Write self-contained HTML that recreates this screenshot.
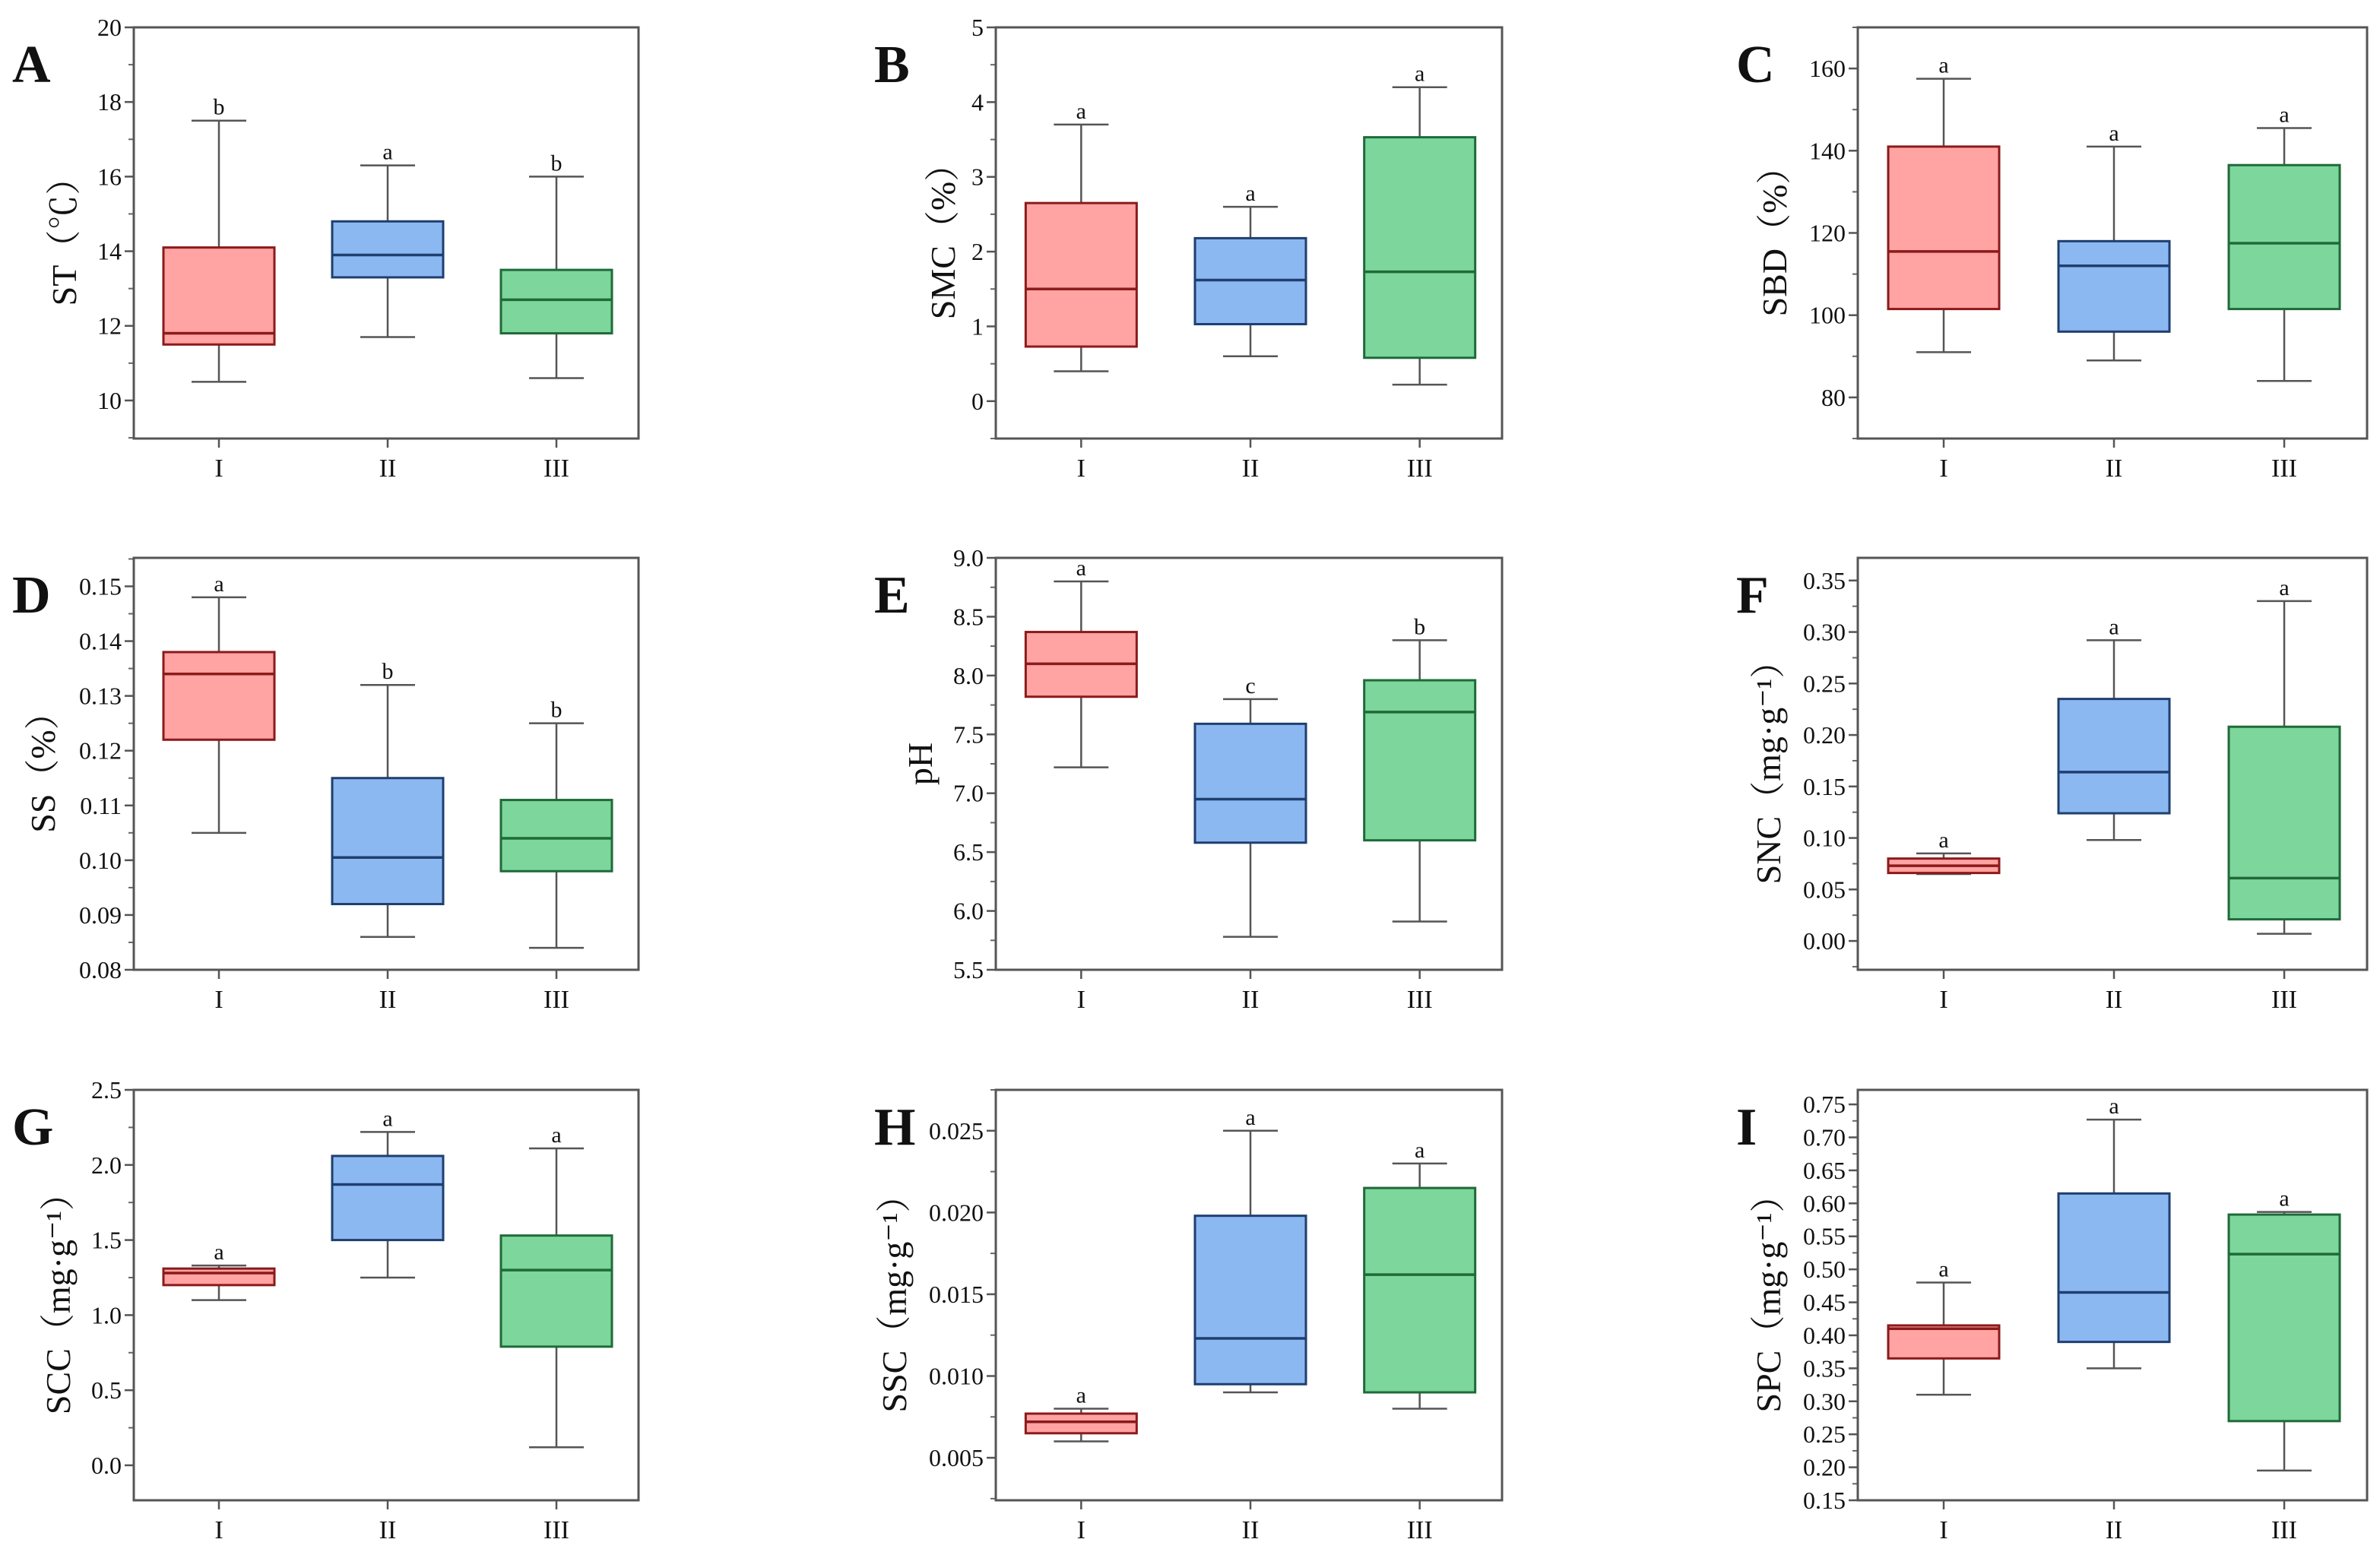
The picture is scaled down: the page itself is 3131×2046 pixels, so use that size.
<!DOCTYPE html>
<html><head><meta charset="utf-8">
<style>
html,body{margin:0;padding:0;background:#fff;}
svg{display:block;}
text{font-family:"Liberation Serif","Noto Serif CJK SC",serif;fill:#111;}
</style></head>
<body>
<svg id="chart" width="3131" height="2046" viewBox="0 0 3131 2046" xmlns="http://www.w3.org/2000/svg"></svg>
<script>
// ---- data ----
const categories = ["I","II","III"];
const panelLetters = ["A","B","C","D","E","F","G","H","I"];
const yTitles = ["ST（℃）","SMC（%）","SBD（%）","SS（%）","pH","SNC（mg·g⁻¹）","SCC（mg·g⁻¹）","SSC（mg·g⁻¹）","SPC（mg·g⁻¹）"];
// each: [min, q1, median, q3, max] per category
const statsA = [[10.5,11.5,11.8,14.1,17.5],[11.7,13.3,13.9,14.8,16.3],[10.6,11.8,12.7,13.5,16.0]];
const statsB = [[0.4,0.73,1.5,2.65,3.7],[0.6,1.03,1.62,2.18,2.6],[0.22,0.58,1.73,3.53,4.2]];
const statsC = [[91,101.5,115.5,141,157.5],[89,96,112,118,141],[84,101.5,117.5,136.5,145.5]];
const statsD = [[0.105,0.122,0.134,0.138,0.148],[0.086,0.092,0.1005,0.115,0.132],[0.084,0.098,0.104,0.111,0.125]];
const statsE = [[7.22,7.82,8.1,8.37,8.8],[5.78,6.58,6.95,7.59,7.8],[5.91,6.6,7.69,7.96,8.3]];
const statsF = [[0.065,0.066,0.073,0.080,0.085],[0.098,0.124,0.164,0.235,0.292],[0.007,0.021,0.061,0.208,0.330]];
const statsG = [[1.1,1.2,1.28,1.31,1.33],[1.25,1.5,1.87,2.06,2.22],[0.12,0.79,1.3,1.53,2.11]];
const statsH = [[0.006,0.0065,0.0072,0.0077,0.008],[0.009,0.0095,0.0123,0.0198,0.025],[0.008,0.009,0.0162,0.0215,0.023]];
const statsI = [[0.31,0.365,0.41,0.415,0.48],[0.35,0.39,0.465,0.615,0.727],[0.195,0.27,0.523,0.583,0.587]];
const sigLetters = [["b","a","b"],["a","a","a"],["a","a","a"],["a","b","b"],["a","c","b"],["a","a","a"],["a","a","a"],["a","a","a"],["a","a","a"]];
// axis domains [min,max] and ticks [start,end,step,decimals,minorStep]
const domains = [[8.98,20],[-0.5,5],[70,170],[0.08,0.1552],[5.5,9.0],[-0.028,0.372],[-0.233,2.5],[0.0024,0.0275],[0.15,0.772]];
const tickSpecs = [[10,20,2,0,1],[0,5,1,0,0.5],[80,160,20,0,10],[0.08,0.15,0.01,2,0.005],[5.5,9.0,0.5,1,0.25],[0,0.35,0.05,2,0.025],[0,2.5,0.5,1,0.25],[0.005,0.025,0.005,3,0.0025],[0.15,0.75,0.05,2,0.025]];
const allStats = [statsA,statsB,statsC,statsD,statsE,statsF,statsG,statsH,statsI];

// ---- layout ----
const colL = [176,1310,2444], colR = [840,1976,3114];
const rowT = [36,734,1434], rowB = [577,1276,1974];
const titleCX = [84,1240,2334,56,1210,2326,76,1176,2326];
const fills = ["#ffa3a3","#8cb8f2","#7dd69b"];
const strokes = ["#8b1a1a","#1f3f6f","#1f6a3a"];
const NS = "http://www.w3.org/2000/svg";
const svg = document.getElementById("chart");
function mk(tag, attrs, parent){
  const e = document.createElementNS(NS, tag);
  for (const k in attrs) e.setAttribute(k, attrs[k]);
  (parent||svg).appendChild(e);
  return e;
}

for (let p = 0; p < 9; p++) {
  const c = p % 3, r = Math.floor(p / 3);
  const L = colL[c], R = colR[c], T = rowT[r], B = rowB[r];
  const [d0, d1] = domains[p];
  const y = v => B - (v - d0) / (d1 - d0) * (B - T);
  const x = i => L + (R - L) * (112 + 222 * i) / 664;
  const g = mk("g", {});
  
  

  // panel letter
  const pl = mk("text", {x: L - 160, y: T + 72, "font-size": 70, "font-weight": "bold"}, g);
  pl.textContent = panelLetters[p];
  
  

  // y ticks
  const [t0, t1, st, dec, mst] = tickSpecs[p];
  const nMinor = Math.round((d1 - d0) / mst) + 2;
  const mStart = Math.ceil((d0 - 1e-9) / mst) * mst;
  for (let k = 0; k < nMinor; k++) {
    const v = mStart + k * mst;
    if (v > d1 + 1e-9) break;
    mk("line", {x1: L - 7, x2: L, y1: y(v), y2: y(v), stroke: "#666", "stroke-width": 2}, g);
  }
  const nMaj = Math.round((t1 - t0) / st);
  for (let k = 0; k <= nMaj; k++) {
    const v = t0 + k * st;
    mk("line", {x1: L - 12, x2: L, y1: y(v), y2: y(v), stroke: "#555", "stroke-width": 2.5}, g);
    const tl = mk("text", {x: L - 16, y: y(v) + 11, "font-size": 32, "text-anchor": "end"}, g);
    tl.textContent = v.toFixed(dec);
    
    
  }

  // y title
  const tx = titleCX[p] + 16, ty = (T + B) / 2;
  const yt = mk("text", {x: tx, y: ty, "font-size": 46, "text-anchor": "middle", transform: `rotate(-90 ${tx} ${ty})`}, g);
  yt.textContent = yTitles[p];
  
  

  // boxes
  const bw = 146, cw = 72;
  allStats[p].forEach((s, i) => {
    const cx = x(i);
    const bg = mk("g", {}, g);
    
    
    mk("line", {x1: cx, x2: cx, y1: y(s[0]), y2: y(s[4]), stroke: "#555", "stroke-width": 2.5}, bg);
    mk("line", {x1: cx - cw/2, x2: cx + cw/2, y1: y(s[0]), y2: y(s[0]), stroke: "#555", "stroke-width": 2.5}, bg);
    mk("line", {x1: cx - cw/2, x2: cx + cw/2, y1: y(s[4]), y2: y(s[4]), stroke: "#555", "stroke-width": 2.5}, bg);
    mk("rect", {x: cx - bw/2, y: y(s[3]), width: bw, height: y(s[1]) - y(s[3]), fill: fills[i], stroke: strokes[i], "stroke-width": 3}, bg);
    mk("line", {x1: cx - bw/2, x2: cx + bw/2, y1: y(s[2]), y2: y(s[2]), stroke: strokes[i], "stroke-width": 3.5}, bg);
    const sl = mk("text", {x: cx, y: y(s[4]) - 8, "font-size": 30, "text-anchor": "middle"}, g);
    sl.textContent = sigLetters[p][i];
    
    
    mk("line", {x1: cx, x2: cx, y1: B, y2: B + 12, stroke: "#555", "stroke-width": 2.5}, g);
    const xl = mk("text", {x: cx, y: B + 50, "font-size": 34, "text-anchor": "middle"}, g);
    xl.textContent = categories[i];
    
    
  });

  // frame
  const fr = mk("rect", {x: L, y: T, width: R - L, height: B - T, fill: "none", stroke: "#555", "stroke-width": 3}, g);
  
  
}
</script>
</body></html>
